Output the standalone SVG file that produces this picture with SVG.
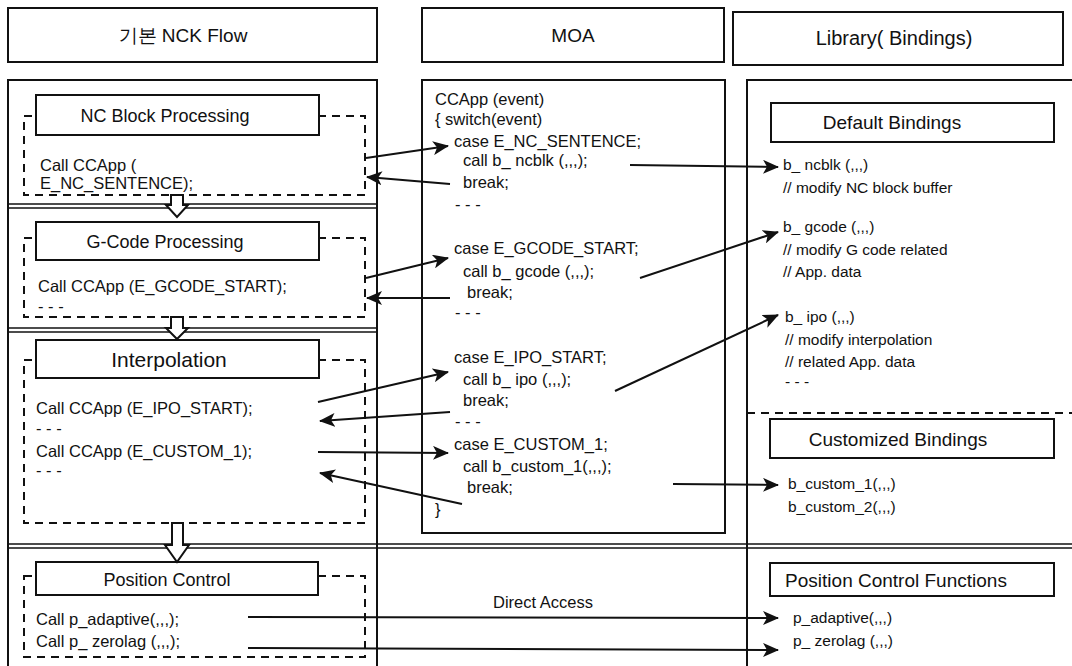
<svg xmlns="http://www.w3.org/2000/svg" width="1072" height="666" viewBox="0 0 1072 666">
<style>
  text { font-family: "Liberation Sans", Arial, sans-serif; fill: #111; }
  .hd { font-size: 19px; text-anchor: middle; }
  .tt { font-size: 18px; text-anchor: middle; }
  .tl { font-size: 19px; text-anchor: middle; }
  .cd { font-size: 16.5px; }
  .ml { font-size: 16.5px; }
  .lb { font-size: 15.5px; }
  .box { fill: #fff; stroke: #111; stroke-width: 2; }
  .frame { fill: none; stroke: #111; stroke-width: 2; }
  .dash { fill: none; stroke: #111; stroke-width: 2; stroke-dasharray: 8 6; }
  .dbl { stroke: #111; stroke-width: 1.6; }
  .blk { fill: #fff; stroke: #111; stroke-width: 2; stroke-linejoin: miter; }
  .arr { fill: none; stroke: #111; stroke-width: 2; marker-end: url(#ah); }
</style>
<defs>
  <marker id="ah" markerUnits="userSpaceOnUse" markerWidth="18" markerHeight="14" refX="15" refY="7" orient="auto">
    <path d="M0,0 L16,7 L0,14 L4,7 z" fill="#111"/>
  </marker>
</defs>
<rect width="1072" height="666" fill="#fff"/>

<g id="header-nck">
  <rect class="box" x="8" y="8" width="369" height="54"/>
  <text class="hd" x="183" y="42">기본 NCK Flow</text>
</g>
<g id="header-moa">
  <rect class="box" x="422" y="8" width="302" height="54"/>
  <text class="hd" x="573" y="42">MOA</text>
</g>
<g id="header-lib">
  <rect class="box" x="733" y="12" width="330" height="53"/>
  <text class="hd" x="894" y="45" style="font-size:20px">Library( Bindings)</text>
</g>

<g id="nck-column">
  <rect class="frame" x="8" y="80" width="369" height="620"/>
  <line class="dbl" x1="8" y1="204" x2="377" y2="204"/>
  <line class="dbl" x1="8" y1="208" x2="377" y2="208"/>
  <line class="dbl" x1="8" y1="328" x2="377" y2="328"/>
  <line class="dbl" x1="8" y1="332" x2="377" y2="332"/>
</g>
<g id="lib-column">
  <rect class="frame" x="747" y="80" width="340" height="620"/>
  <line class="dash" x1="747" y1="413" x2="1072" y2="413"/>
</g>
<g id="section-divider">
  <line class="dbl" x1="8" y1="544" x2="1072" y2="544"/>
  <line class="dbl" x1="8" y1="548" x2="1072" y2="548"/>
</g>

<g id="nc-block">
  <rect class="dash" x="24" y="116" width="341" height="79"/>
  <rect class="box" x="36" y="95" width="283" height="40"/>
  <text class="tt" x="165" y="122">NC Block Processing</text>
  <text class="cd" x="40" y="171">Call CCApp (</text>
  <text class="cd" x="40" y="189">E_NC_SENTENCE);</text>
</g>
<g id="gcode">
  <rect class="dash" x="24" y="238" width="341" height="79"/>
  <rect class="box" x="36" y="222" width="283" height="38"/>
  <text class="tt" x="165" y="248">G-Code Processing</text>
  <text class="cd" x="38" y="292">Call CCApp (E_GCODE_START);</text>
  <text class="cd" x="38" y="312">- - -</text>
</g>
<g id="interpolation">
  <rect class="dash" x="24" y="360" width="341" height="163"/>
  <rect class="box" x="36" y="340" width="283" height="38"/>
  <text class="tt" x="169" y="367" style="font-size:21px">Interpolation</text>
  <text class="cd" x="36" y="414">Call CCApp (E_IPO_START);</text>
  <text class="cd" x="36" y="434">- - -</text>
  <text class="cd" x="36" y="457">Call CCApp (E_CUSTOM_1);</text>
  <text class="cd" x="36" y="476">- - -</text>
</g>
<g id="position-control">
  <rect class="dash" x="24" y="576" width="341" height="81"/>
  <rect class="box" x="36" y="562" width="282" height="33"/>
  <text class="tt" x="167" y="586">Position Control</text>
  <text class="cd" x="36" y="625">Call p_adaptive(,,,);</text>
  <text class="cd" x="36" y="647">Call p_ zerolag (,,,);</text>
</g>

<g id="flow-arrows">
  <polygon class="blk" points="171,195 183,195 183,205 188,205 177,217 166,205 171,205"/>
  <polygon class="blk" points="171,317 183,317 183,328 188,328 177,339 166,328 171,328"/>
  <polygon class="blk" points="172,523 183,523 183,545 189,545 177,562 165,545 172,545"/>
</g>

<g id="moa">
  <rect class="box" x="422" y="80" width="303" height="453"/>
  <text class="ml" x="435" y="105">CCApp (event)</text>
  <text class="ml" x="435" y="125">{ switch(event)</text>
  <text class="ml" x="454" y="147">case E_NC_SENTENCE;</text>
  <text class="ml" x="463" y="166">call b_ ncblk (,,,);</text>
  <text class="ml" x="463" y="188">break;</text>
  <text class="ml" x="455" y="210">- - -</text>
  <text class="ml" x="454" y="254">case E_GCODE_START;</text>
  <text class="ml" x="463" y="277">call b_ gcode (,,,);</text>
  <text class="ml" x="467" y="298">break;</text>
  <text class="ml" x="455" y="318">- - -</text>
  <text class="ml" x="454" y="363">case E_IPO_START;</text>
  <text class="ml" x="463" y="385">call b_ ipo (,,,);</text>
  <text class="ml" x="463" y="406">break;</text>
  <text class="ml" x="455" y="427">- - -</text>
  <text class="ml" x="454" y="450">case E_CUSTOM_1;</text>
  <text class="ml" x="463" y="472">call b_custom_1(,,,);</text>
  <text class="ml" x="467" y="493">break;</text>
  <text class="ml" x="435" y="515">}</text>
</g>

<g id="default-bindings">
  <rect class="box" x="771" y="103" width="283" height="39"/>
  <text class="tl" x="892" y="129">Default Bindings</text>
  <text class="lb" x="783" y="170">b_ ncblk (,,,)</text>
  <text class="lb" x="783" y="193">// modify NC block buffer</text>
  <text class="lb" x="783" y="232">b_ gcode (,,,)</text>
  <text class="lb" x="783" y="255">// modify G code related</text>
  <text class="lb" x="783" y="277">// App. data</text>
  <text class="lb" x="785" y="322">b_ ipo (,,,)</text>
  <text class="lb" x="785" y="345">// modify interpolation</text>
  <text class="lb" x="785" y="367">// related App. data</text>
  <text class="lb" x="785" y="387">- - -</text>
</g>
<g id="customized-bindings">
  <rect class="box" x="770" y="419" width="284" height="39"/>
  <text class="tl" x="898" y="446">Customized Bindings</text>
  <text class="lb" x="788" y="489">b_custom_1(,,,)</text>
  <text class="lb" x="788" y="512">b_custom_2(,,,)</text>
</g>
<g id="position-functions">
  <rect class="box" x="770" y="563" width="284" height="33"/>
  <text class="tl" x="896" y="587">Position Control Functions</text>
  <text class="lb" x="793" y="623">p_adaptive(,,,)</text>
  <text class="lb" x="793" y="646">p_ zerolag (,,,)</text>
</g>

<g id="connectors">
  <line class="arr" x1="366" y1="158" x2="448" y2="146"/>
  <line class="arr" x1="450" y1="184" x2="367" y2="177"/>
  <line class="arr" x1="630" y1="165" x2="778" y2="167"/>
  <line class="arr" x1="366" y1="278" x2="448" y2="258"/>
  <line class="arr" x1="450" y1="298" x2="367" y2="298"/>
  <line class="arr" x1="640" y1="278" x2="778" y2="232"/>
  <line class="arr" x1="318" y1="402" x2="448" y2="372"/>
  <line class="arr" x1="450" y1="412" x2="320" y2="421"/>
  <line class="arr" x1="615" y1="391" x2="778" y2="315"/>
  <line class="arr" x1="318" y1="452" x2="448" y2="453"/>
  <line class="arr" x1="462" y1="504" x2="320" y2="473"/>
  <line class="arr" x1="673" y1="484" x2="778" y2="485"/>
  <line class="arr" x1="248" y1="617" x2="778" y2="618"/>
  <line class="arr" x1="248" y1="648" x2="778" y2="650"/>
  <text class="cd" x="543" y="608" text-anchor="middle">Direct Access</text>
</g>
</svg>
